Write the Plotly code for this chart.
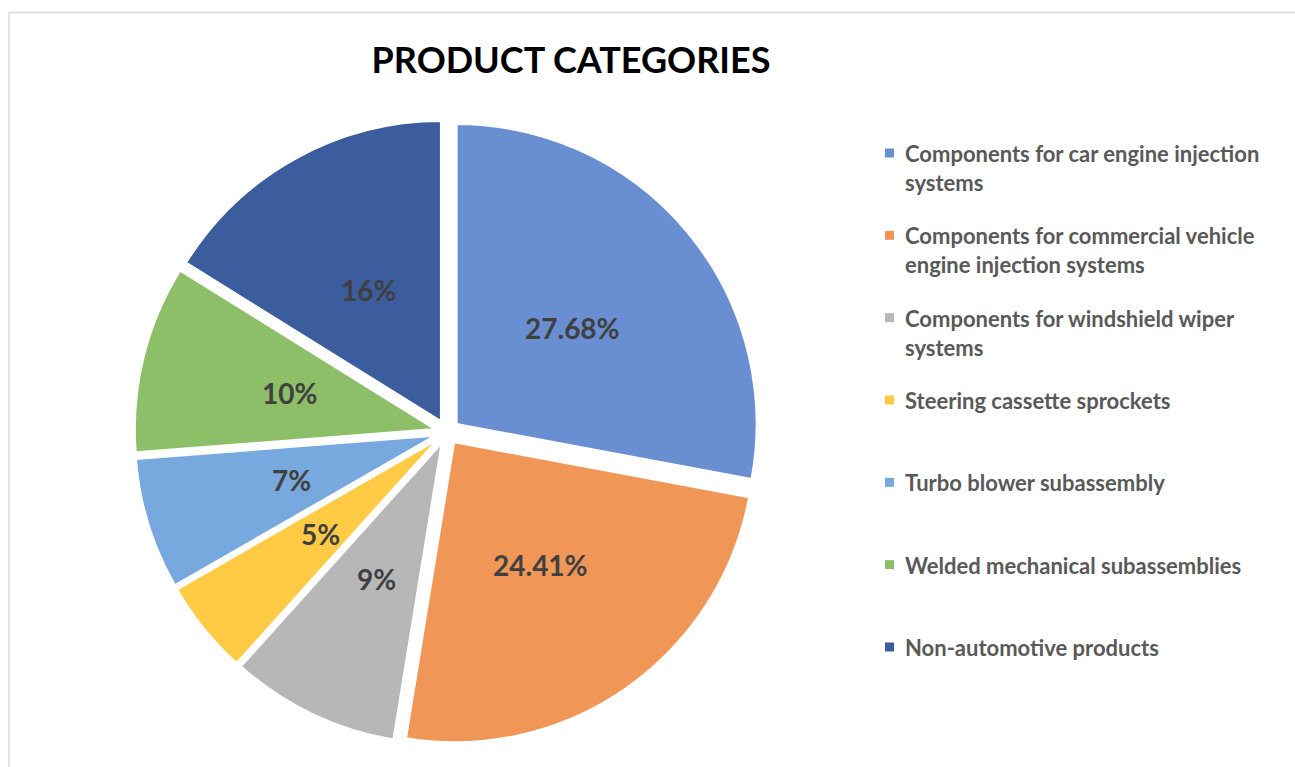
import math
import plotly.graph_objects as go

# Product category shares (percent)
categories = [
    "Components for car engine injection<br>systems",
    "Components for commercial vehicle<br>engine injection systems",
    "Components for windshield wiper<br>systems",
    "Steering cassette sprockets",
    "Turbo blower subassembly",
    "Welded mechanical subassemblies",
    "Non-automotive products",
]
shares = [27.68, 24.41, 9, 5, 7, 10, 16]
share_labels = ["27.68%", "24.41%", "9%", "5%", "7%", "10%", "16%"]

colors = ["#6a8ed2", "#f09758", "#b7b7b7", "#ffcb45", "#78a9de", "#8dbf69", "#3b5c9d"]

W, H = 1295, 767
FONT = "Lato"

# pie geometry (pixels)
CX, CY = 447, 432
PULL = 0.0417
R = 300
half = R * (1 + PULL)


def px(x):
    return x / W


def py(y):
    return 1 - y / H


fig = go.Figure(
    go.Pie(
        labels=categories,
        values=shares,
        text=share_labels,
        textinfo="none",
        marker=dict(colors=colors, line=dict(color="white", width=2)),
        pull=[PULL] * len(shares),
        sort=False,
        direction="clockwise",
        rotation=0,
        hoverinfo="label+text",
        showlegend=False,
        domain=dict(x=[px(CX - half), px(CX + half)], y=[py(CY + half), py(CY - half)]),
    )
)

annotations = []

# value labels placed along each slice's bisector
total = sum(shares)
cum = 0.0
for v, lab in zip(shares, share_labels):
    mid = (cum + v / 2) / total * 2 * math.pi
    cum += v
    rl = 0.5 * R + PULL * R
    annotations.append(dict(
        x=px(CX + rl * math.sin(mid)), y=py(CY - rl * math.cos(mid)),
        xref="paper", yref="paper", xanchor="center", yanchor="middle",
        text=f"<b>{lab}</b>", showarrow=False,
        font=dict(family=FONT, size=28, color="#404040"),
    ))

# legend entries
shapes = []
LEG_TOP, LEG_STEP = 153, 82.33
for i, (name, col) in enumerate(zip(categories, colors)):
    yc = LEG_TOP + i * LEG_STEP
    shapes.append(dict(
        type="rect", xref="paper", yref="paper",
        x0=px(885), x1=px(894), y0=py(yc + 4.5), y1=py(yc - 4.5),
        fillcolor=col, line=dict(width=0),
    ))
    annotations.append(dict(
        x=px(903), y=py(yc - 15), xref="paper", yref="paper",
        xanchor="left", yanchor="top", align="left",
        text=f"<b>{name}</b>", showarrow=False,
        font=dict(family=FONT, size=22, color="#595959"),
    ))

# chart frame
shapes += [
    dict(type="line", xref="paper", yref="paper",
         x0=px(9), x1=1.01, y0=py(12.5), y1=py(12.5),
         line=dict(color="#d9d9d9", width=1.5)),
    dict(type="line", xref="paper", yref="paper",
         x0=px(9), x1=px(9), y0=py(12.5), y1=-0.01,
         line=dict(color="#d9d9d9", width=1.5)),
]

fig.update_layout(
    width=W,
    height=H,
    margin=dict(l=0, r=0, t=0, b=0),
    paper_bgcolor="white",
    plot_bgcolor="white",
    title=dict(
        text="<b>PRODUCT CATEGORIES</b>",
        x=px(571),
        xanchor="center",
        y=py(60),
        yanchor="middle",
        font=dict(family=FONT, size=36, color="black"),
    ),
    annotations=annotations,
    shapes=shapes,
    showlegend=False,
)

fig.write_html("out.html")
